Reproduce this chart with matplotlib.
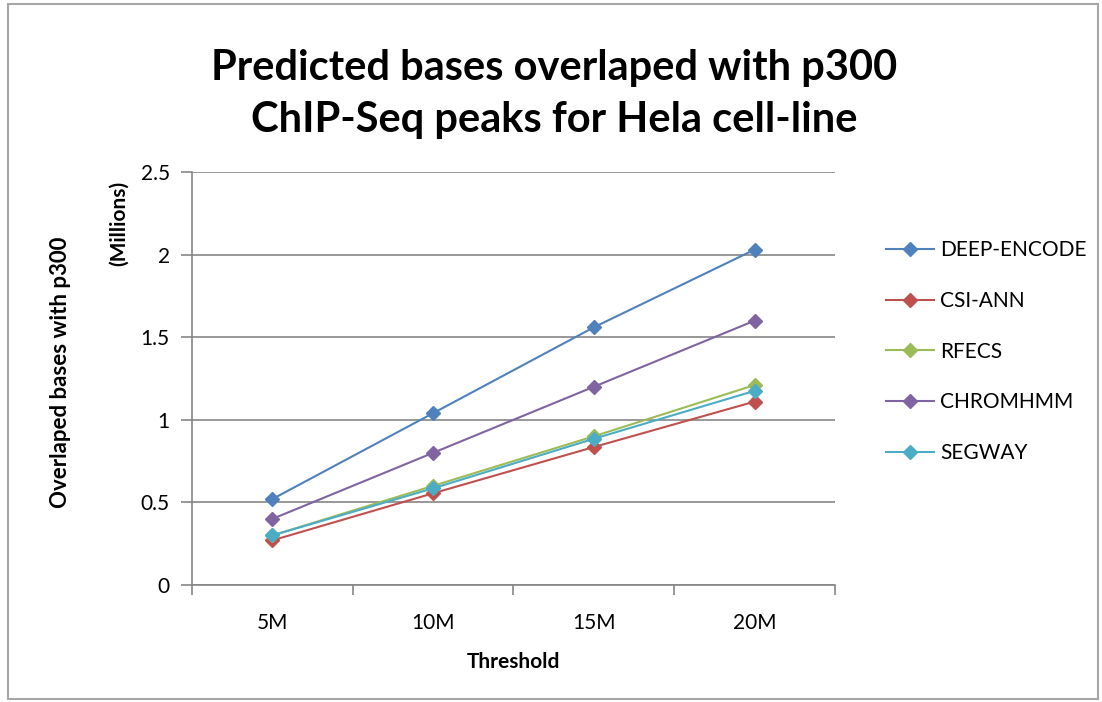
import matplotlib
matplotlib.use("Agg")
import matplotlib.pyplot as plt
from matplotlib.patches import Rectangle
import numpy as np

thresholds = ["5M", "10M", "15M", "20M"]
series_names = ["DEEP-ENCODE", "CSI-ANN", "RFECS", "CHROMHMM", "SEGWAY"]
deep_encode = [0.52, 1.04, 1.56, 2.03]
csi_ann = [0.27, 0.555, 0.835, 1.11]
rfecs = [0.30, 0.60, 0.90, 1.21]
chromhmm = [0.40, 0.80, 1.20, 1.60]
segway = [0.30, 0.585, 0.885, 1.175]
colors = ["#4F81BD", "#C0504D", "#9BBB59", "#8064A2", "#4BACC6"]

plt.rcParams['font.family'] = ['Lato', 'DejaVu Sans']

fig = plt.figure(figsize=(11.02, 7.02), dpi=100)
ax = fig.add_axes([0.1742, 0.1667, 0.5835, 0.5883])

# gray frame around the chart
fig.patches.append(Rectangle((0.007, 0.004), 0.989, 0.99, transform=fig.transFigure,
                             fill=False, edgecolor="#a6a6a6", lw=1.5))

x = np.arange(len(thresholds))
all_series = [deep_encode, csi_ann, rfecs, chromhmm, segway]
for name, vals, c in zip(series_names, all_series, colors):
    ax.plot(x, vals, color=c, lw=1.5, marker="D", markersize=7,
            markeredgecolor=c, markerfacecolor=c, label=name)

ax.set_xlim(-0.5, 3.5)
ax.set_ylim(0, 2.5)
ax.set_yticks([0, 0.5, 1, 1.5, 2, 2.5])
ax.set_yticklabels(["0", "0.5", "1", "1.5", "2", "2.5"])
ax.set_xticks(x)
ax.set_xticklabels(thresholds)
ax.set_xticks(np.arange(-0.5, 4.0, 1.0), minor=True)
ax.tick_params(axis="x", which="major", length=0, pad=20, labelsize=15)
ax.tick_params(axis="x", which="minor", length=7, color="#868686", width=1.2)
ax.tick_params(axis="y", length=8, color="#868686", width=1.2, pad=8, labelsize=15)
ax.grid(axis="y", color="#868686", lw=1.2)
ax.set_axisbelow(True)
for s in ["top", "right"]:
    ax.spines[s].set_visible(False)
for s in ["left", "bottom"]:
    ax.spines[s].set_color("#868686")
    ax.spines[s].set_linewidth(1.2)

ax.set_xlabel("Threshold", fontsize=15, fontweight="bold", labelpad=14)
fig.text(0.055, 0.47, "Overlaped bases with p300", rotation=90, ha="center", va="center",
         fontsize=16, fontweight="bold")
fig.text(0.108, 0.682, "(Millions)", rotation=90, ha="center", va="center",
         fontsize=15, fontweight="bold")

fig.suptitle("Predicted bases overlaped with p300\nChIP-Seq peaks for Hela cell-line",
             x=0.503, y=0.93, fontsize=30, fontweight="bold", linespacing=1.45)

ax.legend(loc="center left", bbox_to_anchor=(1.05, 0.565), frameon=False, fontsize=15,
          handlelength=2.3, labelspacing=1.48, handletextpad=0.3)

fig.savefig("out.png", dpi=100)
